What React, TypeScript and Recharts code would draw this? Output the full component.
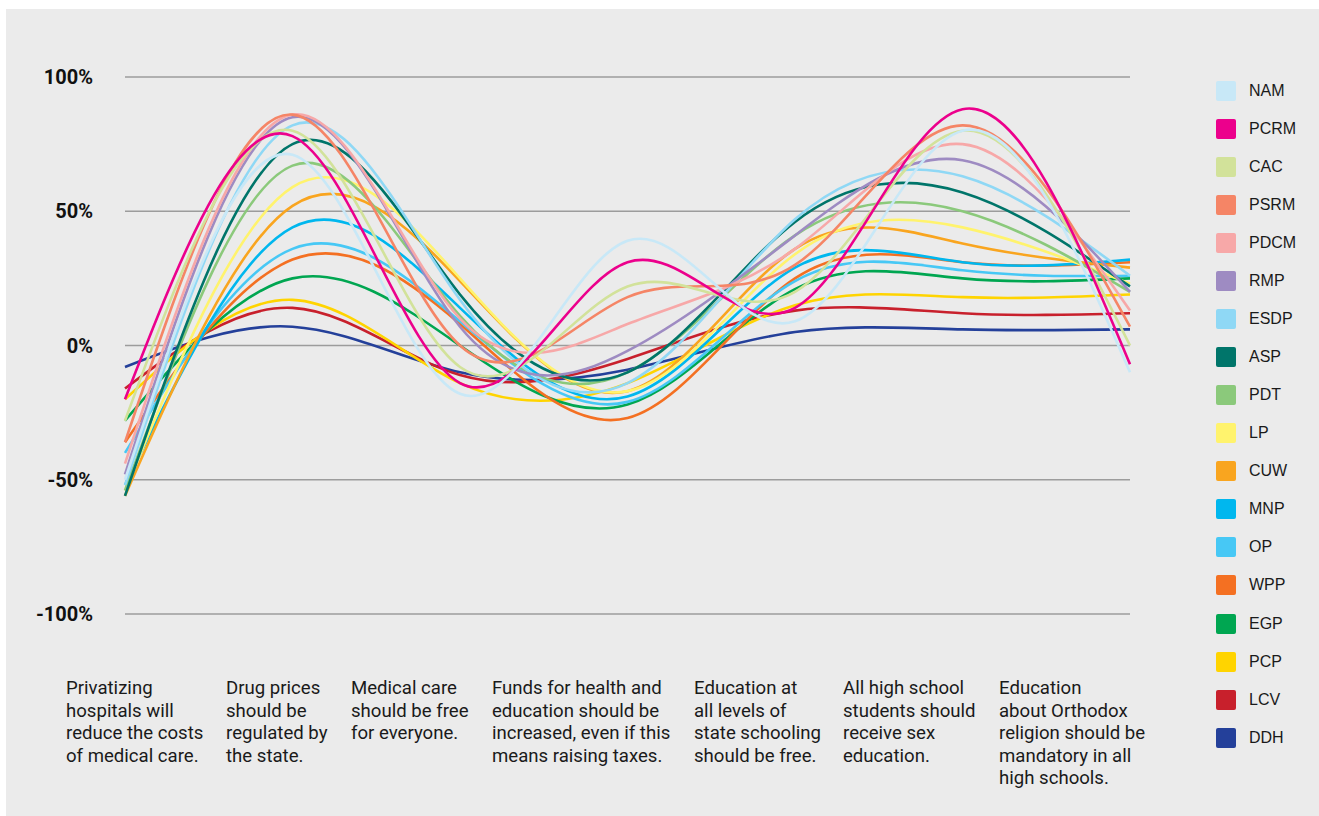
import { LineChart, Line, XAxis, YAxis, CartesianGrid } from 'recharts';

const categories = [
  'Privatizing\nhospitals will\nreduce the costs\nof medical care.',
  'Drug prices\nshould be\nregulated by\nthe state.',
  'Medical care\nshould be free\nfor everyone.',
  'Funds for health and\neducation should be\nincreased, even if this\nmeans raising taxes.',
  'Education at\nall levels of\nstate schooling\nshould be free.',
  'All high school\nstudents should\nreceive sex\neducation.',
  'Education\nabout Orthodox\nreligion should be\nmandatory in all\nhigh schools.',
];

const yTicks = [-100, -50, 0, 50, 100];

// share of agreement per party, one value per statement
const NAM = [-50, 71, -18, 39, 9, 80, -10];
const PCRM = [-20, 78, -14, 31, 14, 88, -7];
const CAC = [-28, 80, -8, 22, 20, 80, 0];
const PSRM = [-36, 86, 0, 18, 30, 82, 7];
const PDCM = [-44, 86, 10, 8, 36, 75, 13];
const RMP = [-48, 85, 7, -2, 41, 69, 20];
const ESDP = [-52, 82, 17, -14, 47, 63, 26];
const ASP = [-56, 75, 19, -10, 46, 57, 22];
const PDT = [-54, 67, 11, -10, 41, 50, 20];
const LP = [-54, 59, 25, -17, 34, 44, 23];
const CUW = [-56, 52, 24, -17, 36, 38, 29];
const MNP = [-52, 44, 14, -19, 29, 31, 32];
const OP = [-40, 36, 9, -21, 24, 28, 26];
const WPP = [-36, 32, 8, -27, 25, 31, 31];
const EGP = [-28, 25, 0, -22, 21, 25, 25];
const PCP = [-20, 17, -14, -14, 15, 18, 19];
const LCV = [-16, 14, -11, -5, 13, 12, 12];
const DDH = [-8, 7, -10, -9, 5, 6, 6];

const series = [
  { name: 'NAM', values: NAM, color: '#c8e8f7' },
  { name: 'PCRM', values: PCRM, color: '#ec008c' },
  { name: 'CAC', values: CAC, color: '#d2e29a' },
  { name: 'PSRM', values: PSRM, color: '#f58566' },
  { name: 'PDCM', values: PDCM, color: '#f7a8a8' },
  { name: 'RMP', values: RMP, color: '#9e8bc2' },
  { name: 'ESDP', values: ESDP, color: '#8fd8f5' },
  { name: 'ASP', values: ASP, color: '#00756a' },
  { name: 'PDT', values: PDT, color: '#8bc97b' },
  { name: 'LP', values: LP, color: '#fff36d' },
  { name: 'CUW', values: CUW, color: '#f9a51f' },
  { name: 'MNP', values: MNP, color: '#00b7ee' },
  { name: 'OP', values: OP, color: '#47c8f5' },
  { name: 'WPP', values: WPP, color: '#f47022' },
  { name: 'EGP', values: EGP, color: '#00a651' },
  { name: 'PCP', values: PCP, color: '#ffd400' },
  { name: 'LCV', values: LCV, color: '#c8202c' },
  { name: 'DDH', values: DDH, color: '#24409a' },
];

const data = categories.map((category, i) => {
  const row: Record<string, string | number> = { category };
  series.forEach((s) => {
    row[s.name] = s.values[i];
  });
  return row;
});

// left edge of each statement block (labels are hand placed in the original)
const LABEL_LEFT = [60, 220, 345, 486, 688, 837, 993];

function StatementTick(props: any) {
  const { index, payload } = props;
  const lines = String(payload.value).split('\n');
  const left = LABEL_LEFT[index] ?? props.x;
  return (
    <text x={left} y={685} fontSize={18.6} fill="#1a1a1a" textAnchor="start">
      {lines.map((line, k) => (
        <tspan key={k} x={left} dy={k === 0 ? 0 : 22.6}>
          {line}
        </tspan>
      ))}
    </text>
  );
}

function PercentTick(props: any) {
  const { y, payload } = props;
  return (
    <text x={87} y={y} dy="0.36em" fontSize={20} fontWeight={700} fill="#111" textAnchor="end">
      {`${payload.value}%`}
    </text>
  );
}

export default function App() {
  return (
    <div
      style={{
        position: 'fixed',
        left: 6,
        top: 9,
        width: 1313,
        height: 807,
        background: '#ebebeb',
        fontFamily: 'Roboto, sans-serif',
      }}
    >
      <LineChart width={1313} height={807} data={data} margin={{ top: 68, right: 189, left: 0, bottom: 0 }}>
        <CartesianGrid vertical={false} stroke="#9c9c9c" strokeWidth={1.3} />
        <XAxis
          dataKey="category"
          interval={0}
          height={202}
          axisLine={false}
          tickLine={false}
          tick={<StatementTick />}
        />
        <YAxis
          domain={[-100, 100]}
          ticks={yTicks}
          width={119}
          axisLine={false}
          tickLine={false}
          tick={<PercentTick />}
        />
        {[...series].reverse().map((s) => (
          <Line
            key={s.name}
            type="natural"
            dataKey={s.name}
            stroke={s.color}
            strokeWidth={2.6}
            dot={false}
            activeDot={false}
            isAnimationActive={false}
          />
        ))}
      </LineChart>
      <div style={{ position: 'absolute', left: 1210, top: 0, fontFamily: '"Liberation Sans", Arial, sans-serif' }}>
        {series.map((s, i) => (
          <div
            key={s.name}
            style={{ position: 'absolute', top: 71.7 + i * 38.06, left: 0, display: 'flex', alignItems: 'center', height: 20 }}
          >
            <div style={{ width: 20, height: 20, background: s.color, borderRadius: 2 }} />
            <span style={{ marginLeft: 13, fontSize: 16, color: '#1a1a1a', whiteSpace: 'nowrap' }}>{s.name}</span>
          </div>
        ))}
      </div>
    </div>
  );
}
